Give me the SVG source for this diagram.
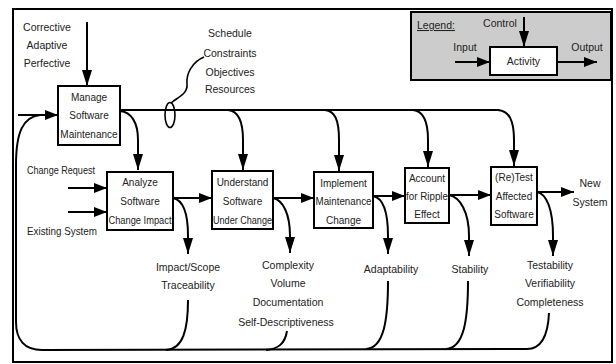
<svg xmlns="http://www.w3.org/2000/svg" width="616" height="364" viewBox="0 0 616 364">
<defs>
<marker id="ah" markerUnits="userSpaceOnUse" markerWidth="16" markerHeight="10" refX="16" refY="5" orient="auto">
<path d="M0,0 L16,5 L0,10 z" fill="#000"/>
</marker>
<marker id="ahs" markerUnits="userSpaceOnUse" markerWidth="13" markerHeight="10" refX="13" refY="5" orient="auto">
<path d="M0,0 L13,5 L0,10 z" fill="#000"/>
</marker>
</defs>
<style>
text{font-family:"Liberation Sans","DejaVu Sans",sans-serif;font-size:10.5px;fill:#222;text-anchor:middle}
.box{fill:#fff;stroke:#000;stroke-width:2}
.bt{font-size:10px}
.ln{fill:none;stroke:#000;stroke-width:2}
.ar{fill:none;stroke:#000;stroke-width:2;marker-end:url(#ah)}
.as{fill:none;stroke:#000;stroke-width:2;marker-end:url(#ahs)}
</style>
<rect x="0" y="0" width="616" height="364" fill="#fff"/>
<rect id="frame" x="13" y="9" width="599" height="353" fill="none" stroke="#000" stroke-width="2"/>

<g id="legend">
<rect x="411" y="12" width="200" height="68" fill="#cccccc" stroke="#000" stroke-width="2"/>
<text x="417" y="29" style="text-anchor:start" text-decoration="underline">Legend:</text>
<text x="500" y="27">Control</text>
<text x="465" y="51">Input</text>
<text x="587" y="51">Output</text>
<line class="ar" x1="524" y1="17" x2="524" y2="47"/>
<line class="as" x1="455" y1="62" x2="490" y2="62"/>
<line class="as" x1="557" y1="62" x2="597" y2="62"/>
<rect x="490" y="47" width="67" height="28" fill="#fff" stroke="#000" stroke-width="2"/>
<text x="523.5" y="65">Activity</text>
</g>

<g id="labels">
<text x="47" y="31">Corrective</text>
<text x="47" y="49">Adaptive</text>
<text x="47" y="67">Perfective</text>
<text x="230" y="37">Schedule</text>
<text x="230" y="57">Constraints</text>
<text x="230" y="76">Objectives</text>
<text x="230" y="93">Resources</text>
<text x="61" y="174" textLength="68" lengthAdjust="spacingAndGlyphs">Change Request</text>
<text x="62" y="235" textLength="70" lengthAdjust="spacingAndGlyphs">Existing System</text>
<text x="590" y="187">New</text>
<text x="590" y="206">System</text>
<text x="188" y="271">Impact/Scope</text>
<text x="188" y="289">Traceability</text>
<text x="288" y="269">Complexity</text>
<text x="288" y="287">Volume</text>
<text x="288" y="306">Documentation</text>
<text x="286" y="326">Self-Descriptiveness</text>
<text x="391" y="273">Adaptability</text>
<text x="470" y="273">Stability</text>
<text x="550" y="269">Testability</text>
<text x="550" y="287">Verifiability</text>
<text x="550" y="306">Completeness</text>
</g>

<g id="connectors">
<line class="ar" x1="87" y1="22" x2="87" y2="86"/>
<line class="as" x1="18" y1="115" x2="58" y2="115"/>
<path class="ln" d="M120,110 L499,110"/>
<path class="ar" d="M120,111 C131,112 138,122 138,140 L138,170"/>
<path class="ar" d="M228,110 C238,111 243,120 243,140 L243,170"/>
<path class="ar" d="M325,110 C335,111 339,120 339,140 L339,171"/>
<path class="ar" d="M413,110 C423,111 428,120 428,140 L428,167"/>
<path class="ar" d="M498,110 C509,111 514,120 514,140 L514,166"/>
<ellipse cx="170" cy="115" rx="5" ry="12.5" fill="none" stroke="#000" stroke-width="1.6"/>
<path class="ln" style="stroke-width:1.6" d="M171,103 C178,97 188,94 187,84 C186,74 192,62 204,57"/>
<line class="as" x1="68" y1="188" x2="107" y2="188"/>
<line class="as" x1="68" y1="212" x2="107" y2="212"/>
<line class="as" x1="173" y1="198" x2="212" y2="198"/>
<line class="as" x1="273" y1="198" x2="314" y2="198"/>
<line class="as" x1="373" y1="196" x2="405" y2="196"/>
<line class="as" x1="449" y1="195" x2="491" y2="195"/>
<line class="as" x1="537" y1="192" x2="574" y2="192"/>
<path class="ar" d="M173,198 C183,200 188,214 188,236 L188,254"/>
<path class="ar" d="M273,198 C283,200 290,214 290,236 L290,253"/>
<path class="ar" d="M373,196 C383,198 388,212 388,236 L388,254"/>
<path class="ar" d="M449,195 C460,197 469,212 469,236 L469,256"/>
<path class="ar" d="M537,192 C547,194 553,210 553,236 L553,256"/>
<path class="ln" d="M188,300 C188,330 183,349 166,350"/>
<path class="ln" d="M287,331 C285,343 279,349 266,350"/>
<path class="ln" d="M388,281 C388,320 384,348 366,349"/>
<path class="ln" d="M468,281 C468,320 464,348 446,349"/>
<path class="ln" d="M549,313 C548,335 541,349 527,349"/>
<path class="ln" d="M527,349 L42,350 C25,350 16,340 16,322 L16,165 C16,132 23,117 40,115"/>
</g>

<g id="manage">
<rect class="box" x="58" y="86" width="62" height="59"/>
<text class="bt" x="89" y="101">Manage</text>
<text class="bt" x="89" y="119">Software</text>
<text class="bt" x="89" y="138">Maintenance</text>
</g>
<g id="analyze">
<rect class="box" x="107" y="172" width="66" height="58"/>
<text class="bt" x="140" y="186">Analyze</text>
<text class="bt" x="140" y="205">Software</text>
<text class="bt" x="140" y="224" textLength="63" lengthAdjust="spacingAndGlyphs">Change Impact</text>
</g>
<g id="understand">
<rect class="box" x="212" y="171" width="61" height="58"/>
<text class="bt" x="242.5" y="186">Understand</text>
<text class="bt" x="242.5" y="205">Software</text>
<text class="bt" x="242.5" y="224" textLength="59" lengthAdjust="spacingAndGlyphs">Under Change</text>
</g>
<g id="implement">
<rect class="box" x="314" y="172" width="59" height="56"/>
<text class="bt" x="343.5" y="187">Implement</text>
<text class="bt" x="343.5" y="205" textLength="56" lengthAdjust="spacingAndGlyphs">Maintenance</text>
<text class="bt" x="343.5" y="224">Change</text>
</g>
<g id="account">
<rect class="box" x="405" y="168" width="44" height="55"/>
<text class="bt" x="427" y="182">Account</text>
<text class="bt" x="427" y="200" textLength="42" lengthAdjust="spacingAndGlyphs">for Ripple</text>
<text class="bt" x="427" y="218">Effect</text>
</g>
<g id="retest">
<rect class="box" x="491" y="167" width="46" height="58"/>
<text class="bt" x="514" y="181">(Re)Test</text>
<text class="bt" x="514" y="200">Affected</text>
<text class="bt" x="514" y="218">Software</text>
</g>
</svg>
